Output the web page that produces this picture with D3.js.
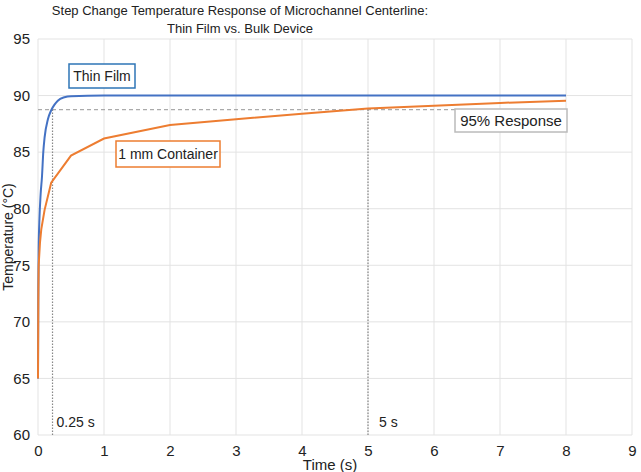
<!DOCTYPE html>
<html>
<head>
<meta charset="utf-8">
<script src="https://cdn.jsdelivr.net/npm/d3@7"></script>
<style>
  body { margin: 0; background: #fff; }
  svg { display: block; font-family: "Liberation Sans", Arial, sans-serif; }
</style>
</head>
<body>
<svg id="chart" width="641" height="472"></svg>
<script>
// data
var thinTime = [0, 0.005, 0.01, 0.02, 0.04, 0.06, 0.08, 0.1, 0.15, 0.2, 0.25, 0.3, 0.4, 0.5, 1, 2, 3, 4, 5, 6, 7, 8];
var thinTemp = [65, 73, 76.5, 78.8, 81.3, 82.8, 85, 86.3, 87.9, 88.7, 89.2, 89.55, 89.85, 89.95, 90, 90, 90, 90, 90, 90, 90, 90];

var bulkTime = [0, 0.005, 0.01, 0.03, 0.05, 0.1, 0.2, 0.5, 1, 2, 3, 4, 5, 6, 7, 8];
var bulkTemp = [65, 72, 75, 77, 78.2, 79.9, 82.3, 84.7, 86.2, 87.4, 87.9, 88.4, 88.85, 89.1, 89.35, 89.55];

var xTicks = [0, 1, 2, 3, 4, 5, 6, 7, 8, 9];
var yTicks = [60, 65, 70, 75, 80, 85, 90, 95];

var response95 = 88.75;   // 95% of the step
var tFilm = 0.22;         // where thin film crosses 95%
var tBulk = 5;            // where bulk crosses 95%
var tEnd = 8;

var svg = d3.select("#chart");

var x = d3.scaleLinear().domain([0, 9]).range([38, 632]);
var y = d3.scaleLinear().domain([60, 95]).range([435, 39]);

// grid
svg.append("g")
  .selectAll("line")
  .data(xTicks)
  .join("line")
    .attr("x1", d => x(d)).attr("x2", d => x(d))
    .attr("y1", y(60)).attr("y2", y(95))
    .attr("stroke", "#e3e3e3").attr("stroke-width", 1);

svg.append("g")
  .selectAll("line")
  .data(yTicks)
  .join("line")
    .attr("x1", x(0)).attr("x2", x(9))
    .attr("y1", d => y(d)).attr("y2", d => y(d))
    .attr("stroke", "#e3e3e3").attr("stroke-width", 1);

// axes (labels only)
var xAxis = svg.append("g")
  .attr("transform", "translate(0," + (y(60) + 10) + ")")
  .call(d3.axisBottom(x).tickValues(xTicks).tickSize(0).tickPadding(0));
xAxis.select(".domain").remove();
xAxis.selectAll("text")
  .attr("font-size", 15).attr("fill", "#222")
  .attr("font-family", "Liberation Sans, Arial, sans-serif");

var yAxis = svg.append("g")
  .attr("transform", "translate(30,0)")
  .call(d3.axisLeft(y).tickValues(yTicks).tickSize(0).tickPadding(0));
yAxis.select(".domain").remove();
yAxis.selectAll("text")
  .attr("font-size", 15).attr("fill", "#222")
  .attr("font-family", "Liberation Sans, Arial, sans-serif");

// reference lines
svg.append("line")
  .attr("x1", x(0)).attr("x2", x(tEnd))
  .attr("y1", y(response95)).attr("y2", y(response95))
  .attr("stroke", "#aaa").attr("stroke-width", 1.3)
  .attr("stroke-dasharray", "4,3");

[tFilm, tBulk].forEach(function(t) {
  svg.append("line")
    .attr("x1", x(t)).attr("x2", x(t))
    .attr("y1", y(60)).attr("y2", y(response95))
    .attr("stroke", "#888").attr("stroke-width", 1.2)
    .attr("stroke-dasharray", "1.5,1.5");
});

// series - thin film first so the container line sits on top
var thinLine = d3.line()
  .x((d, i) => x(thinTime[i]))
  .y(d => y(d))
  .curve(d3.curveMonotoneX);
svg.append("path")
  .attr("d", thinLine(thinTemp))
  .attr("fill", "none").attr("stroke", "#4472C4").attr("stroke-width", 2);

var bulkLine = d3.line()
  .x((d, i) => x(bulkTime[i]))
  .y(d => y(d));
svg.append("path")
  .attr("d", bulkLine(bulkTemp))
  .attr("fill", "none").attr("stroke", "#ED7D31").attr("stroke-width", 2);

// title
var title = svg.append("text")
  .attr("text-anchor", "middle").attr("font-size", 13).attr("fill", "#222");
title.append("tspan").attr("x", 240).attr("y", 15)
  .text("Step Change Temperature Response of Microchannel Centerline:");
title.append("tspan").attr("x", 240).attr("y", 33)
  .text("Thin Film vs. Bulk Device");

// axis titles
svg.append("text")
  .attr("x", 330).attr("y", 470)
  .attr("text-anchor", "middle").attr("font-size", 15).attr("fill", "#222")
  .text("Time (s)");

svg.append("text")
  .attr("transform", "translate(13," + ((y(60) + y(95)) / 2) + ") rotate(-90)")
  .attr("text-anchor", "middle").attr("font-size", 14).attr("fill", "#222")
  .text("Temperature (°C)");

// annotation boxes
function box(x0, y0, w, h, stroke, label, fs) {
  svg.append("rect")
    .attr("x", x0).attr("y", y0).attr("width", w).attr("height", h)
    .attr("fill", "#fff").attr("stroke", stroke).attr("stroke-width", 1.5);
  svg.append("text")
    .attr("x", x0 + w / 2).attr("y", y0 + h / 2 + fs * 0.36)
    .attr("text-anchor", "middle").attr("font-size", fs).attr("fill", "#222")
    .text(label);
}
box(69, 64, 66, 24, "#2E75B6", "Thin Film", 14);
box(116, 141, 104, 26, "#ED7D31", "1 mm Container", 14);
box(455, 109, 112, 23, "#bbb", "95% Response", 15);

// time labels near the dotted lines
svg.append("text")
  .attr("x", x(tFilm) + 4).attr("y", 427)
  .attr("font-size", 14).attr("fill", "#222")
  .text("0.25 s");
svg.append("text")
  .attr("x", x(tBulk) + 11).attr("y", 427)
  .attr("font-size", 14).attr("fill", "#222")
  .text("5 s");
</script>
</body>
</html>
